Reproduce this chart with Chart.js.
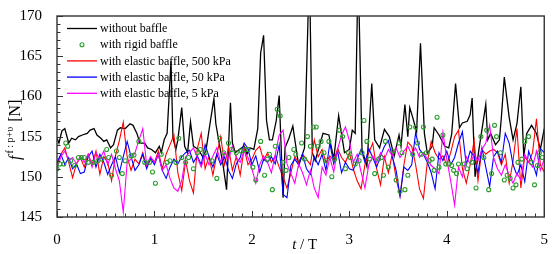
<!DOCTYPE html>
<html lang="en">
<head>
<meta charset="UTF-8" />
<title>Force history</title>
<style>
  body { margin: 0; padding: 0; background: #fff; }
  #c { display: block; }
</style>
</head>
<body>
<canvas id="c" width="554" height="254"></canvas>
<script src="https://cdn.jsdelivr.net/npm/chart.js"></script>
<script>
// ---- data ----
const labels = [
  'without baffle',
  'with rigid baffle',
  'with elastic baffle, 500 kPa',
  'with elastic baffle, 50 kPa',
  'with elastic baffle, 5 kPa'
];

// without baffle (irregular sampling, follows the peaks)
const tNoBaffle = [0.00,0.02,0.05,0.08,0.12,0.15,0.19,0.22,0.26,0.31,0.34,0.38,0.41,0.45,0.48,0.51,0.55,0.58,0.62,0.65,0.70,0.75,0.78,0.82,0.85,0.90,0.93,0.97,
  1.01,1.05,1.07,1.10,1.13,1.17,1.19,1.22,1.24,1.28,1.31,1.34,1.37,1.40,1.45,1.50,1.53,1.57,1.61,1.63,1.67,1.70,1.74,1.78,1.80,1.83,1.87,1.92,1.95,1.98,
  2.02,2.06,2.09,2.12,2.15,2.18,2.21,2.25,2.28,2.32,2.34,2.38,2.42,2.48,2.54,2.59,2.62,2.65,2.73,2.79,2.84,2.89,2.95,
  3.00,3.03,3.06,3.09,3.13,3.18,3.23,3.26,3.31,3.36,3.41,3.46,3.51,3.53,3.57,3.60,3.62,3.65,3.69,3.73,3.77,3.80,3.85,3.87,3.92,3.98,
  4.02,4.05,4.09,4.13,4.16,4.21,4.24,4.26,4.29,4.33,4.40,4.42,4.45,4.50,4.54,4.56,4.59,4.64,4.68,4.72,4.76,4.79,4.82,4.87,4.92,4.96,5.00];
const vNoBaffle = [154.8,154.2,155.7,156.0,154.2,154.8,154.6,155.0,155.2,155.4,155.8,156.0,155.2,154.8,154.4,154.6,153.6,154.0,155.8,156.1,156.0,156.6,156.4,155.4,154.2,154.2,153.6,153.4,
  153.0,153.8,153.0,154.6,155.4,164.4,154.8,153.4,154.6,158.6,153.8,153.0,156.8,153.8,153.4,152.4,153.4,156.6,159.7,156.6,153.8,151.8,148.4,159.2,154.2,153.0,153.4,153.8,152.8,153.6,
  153.4,156.0,165.4,167.6,157.0,154.6,154.6,157.0,160.1,147.4,153.6,154.8,156.3,151.4,153.6,176.0,153.0,152.0,155.4,155.2,152.2,157.6,153.0,
  153.4,155.8,155.4,176.0,153.4,151.3,161.6,154.6,153.6,155.9,155.0,152.6,155.2,153.8,159.0,155.0,158.6,157.4,155.6,166.6,155.4,152.9,153.8,156.1,155.2,153.8,
  153.6,155.3,161.6,156.1,156.7,156.9,157.7,159.8,150.0,153.4,159.0,154.6,155.4,154.0,154.6,157.4,162.4,157.4,154.6,156.6,161.2,152.5,155.4,156.4,155.4,153.4,156.0];

// with rigid baffle (markers)
const tRigid = [0.00,0.03,0.07,0.09,0.11,0.14,0.18,0.22,0.25,0.28,0.32,0.37,0.42,0.46,0.51,0.53,0.56,0.61,0.64,0.67,0.70,0.76,0.79,0.84,0.90,0.95,0.98,
  1.01,1.07,1.13,1.16,1.22,1.25,1.28,1.32,1.35,1.40,1.44,1.47,1.52,1.59,1.64,1.67,1.71,1.76,1.79,1.84,1.89,1.93,1.96,
  2.01,2.04,2.09,2.13,2.16,2.18,2.21,2.24,2.26,2.29,2.32,2.35,2.38,2.43,2.45,2.51,2.54,2.57,2.60,2.63,2.66,2.68,2.71,2.74,2.76,2.79,2.82,2.85,2.90,2.93,2.96,2.99,
  3.01,3.06,3.10,3.13,3.15,3.18,3.21,3.26,3.30,3.33,3.35,3.37,3.40,3.45,3.48,3.51,3.52,3.54,3.57,3.60,3.62,3.65,3.68,3.70,3.74,3.76,3.79,3.82,3.85,3.87,3.90,3.92,3.96,3.99,
  4.02,4.05,4.07,4.10,4.12,4.18,4.21,4.26,4.30,4.35,4.38,4.41,4.43,4.46,4.49,4.51,4.55,4.59,4.62,4.65,4.68,4.71,4.73,4.77,4.80,4.84,4.87,4.90,4.93,4.95,4.98];
const vRigid = [151.0,151.6,151.6,154.2,153.8,152.0,151.4,152.4,152.4,152.4,151.8,151.8,152.0,152.2,153.4,152.4,150.2,153.2,152.4,150.4,152.0,152.6,152.7,154.4,151.8,151.8,150.6,
  149.2,152.8,151.8,152.0,151.8,154.8,152.4,151.8,152.4,151.0,153.0,153.4,153.0,152.0,149.8,154.8,153.0,154.2,153.4,153.0,153.2,153.4,153.4,
  151.2,149.6,154.4,150.2,152.2,152.8,148.4,153.8,158.4,157.6,151.8,150.8,152.4,153.4,152.8,154.2,152.2,155.0,153.8,156.2,156.2,153.8,154.4,153.0,152.0,154.4,150.0,152.2,155.8,155.0,151.0,153.0,
  152.4,151.6,152.0,153.0,157.0,154.4,152.2,150.4,152.2,152.4,150.2,154.4,151.2,153.2,149.6,154.2,148.2,153.0,148.4,150.2,156.2,152.8,156.2,154.2,152.8,156.2,153.0,152.0,152.2,150.8,157.4,151.2,155.2,151.6,
  151.6,151.4,150.8,150.4,151.6,151.6,151.0,151.8,148.6,155.0,152.4,155.8,148.4,150.4,156.4,155.0,153.0,149.6,150.2,149.8,148.6,149.0,151.8,152.2,154.4,155.0,151.8,149.0,151.4,153.0,152.4];

// elastic baffles, sampled every 0.04 T
const tElastic = Array.from({ length: 126 }, (_, i) => +(i * 0.04).toFixed(2));
const v500kPa = [151.5,152.8,153.6,151.8,149.9,151.6,152.4,151.2,152.8,151.5,153.2,150.3,152.5,151.8,149.5,152.6,154.5,156.8,152.5,150.8,152.2,151.6,153.0,151.2,152.4,
  151.8,153.2,151.0,152.8,154.0,155.2,150.5,148.3,152.0,149.5,148.0,153.5,155.4,151.0,152.5,150.2,152.8,155.0,151.5,153.6,150.8,152.5,150.2,153.5,151.5,
  152.2,153.3,153.8,152.0,153.0,151.8,152.6,151.2,150.0,148.6,150.5,152.5,151.8,152.8,152.2,151.5,154.6,152.5,153.4,151.8,152.6,152.0,153.5,152.4,151.8,
  153.0,151.0,149.5,148.5,151.5,153.0,154.2,151.0,149.0,152.5,150.5,152.8,149.8,147.6,151.5,154.3,153.8,151.5,148.5,147.3,151.8,154.4,153.0,152.2,152.6,
  151.5,153.0,155.0,155.8,151.0,149.2,151.5,154.5,149.5,153.4,152.8,153.2,153.4,153.0,151.5,152.8,149.2,152.0,156.0,148.6,152.5,151.8,153.0,157.2,151.5,150.6];
const v50kPa = [151.8,152.8,151.5,152.4,151.0,151.6,150.4,150.6,152.5,153.2,151.2,152.8,151.8,150.3,151.5,152.5,150.5,152.5,154.4,152.5,150.8,151.5,152.8,151.0,152.3,
  151.5,152.8,150.8,149.8,151.2,152.2,151.6,152.5,153.0,153.3,151.8,152.6,151.5,154.0,152.5,151.2,152.8,151.5,152.5,150.8,149.8,151.6,152.4,154.2,153.5,
  151.5,152.6,150.6,152.2,151.8,152.5,151.6,154.0,147.8,147.4,151.4,152.2,151.5,152.8,151.0,150.3,152.5,151.5,152.8,150.8,154.2,151.6,153.2,150.5,151.8,
  151.0,150.8,152.2,153.4,151.8,153.5,152.4,151.2,152.6,153.8,154.5,152.5,150.8,147.6,151.2,150.8,151.5,155.5,153.4,152.8,151.8,150.5,148.5,153.0,152.0,
  153.2,151.5,152.4,154.2,155.6,151.5,153.2,152.5,150.5,153.6,151.2,148.8,152.5,153.2,151.8,155.4,154.2,151.5,150.2,151.5,149.4,153.2,151.8,150.2,153.5,153.0];
const v5kPa = [151.0,152.5,153.2,152.0,152.4,151.6,152.6,151.8,152.8,151.2,153.0,152.2,153.2,151.5,152.8,151.0,149.5,145.6,151.8,152.2,153.0,154.5,156.0,151.5,152.5,
  151.8,152.8,150.8,151.5,149.8,148.6,148.2,149.5,152.5,153.0,153.6,152.4,151.2,152.8,151.5,152.6,153.6,151.8,153.0,152.2,153.8,152.4,151.8,153.2,152.4,
  151.0,149.2,151.5,152.6,151.8,150.5,152.8,155.2,155.8,151.6,150.4,149.2,151.6,150.5,149.0,150.8,148.6,147.4,151.2,150.2,152.4,150.6,153.4,155.2,156.2,
  154.5,151.8,152.8,150.6,148.6,151.5,152.6,151.8,153.0,152.2,153.4,152.6,153.6,152.4,153.2,153.8,152.8,153.6,152.4,153.0,152.2,151.4,151.0,150.4,155.5,
  152.2,149.5,146.5,151.2,150.0,152.5,151.6,152.8,152.0,153.4,154.2,156.4,152.4,151.0,150.2,151.5,150.2,149.2,150.4,149.6,152.8,151.8,151.2,153.2,150.8,152.2];

const xTicks = [0, 1, 2, 3, 4, 5];
const yTicks = [145, 150, 155, 160, 165, 170];

const pts = (ts, vs) => ts.map((t, i) => ({ x: t, y: vs[i] }));
const SERIF = '"Liberation Serif", "Times New Roman", serif';

const datasets = [
  { label: labels[0], data: pts(tNoBaffle, vNoBaffle), borderColor: '#000', borderWidth: 1.3, order: 5 },
  { label: labels[1], data: pts(tRigid, vRigid), showLine: false, pointRadius: 2, pointBorderWidth: 1.1,
    pointBorderColor: '#2e9e2e', pointBackgroundColor: 'rgba(0,0,0,0)', borderColor: '#2e9e2e', order: 1 },
  { label: labels[2], data: pts(tElastic, v500kPa), borderColor: '#ff0000', borderWidth: 1.1, order: 4 },
  { label: labels[3], data: pts(tElastic, v50kPa), borderColor: '#0000ff', borderWidth: 1.1, order: 3 },
  { label: labels[4], data: pts(tElastic, v5kPa), borderColor: '#ff00ff', borderWidth: 1.1, order: 2 }
];
datasets.forEach(d => {
  if (d.showLine !== false) { d.pointRadius = 0; d.tension = 0; d.fill = false; }
});

// frame, inward ticks, legend and axis titles
const decor = {
  id: 'decor',
  afterDraw(chart) {
    const ctx = chart.ctx;
    const a = chart.chartArea;
    const sx = chart.scales.x, sy = chart.scales.y;
    ctx.save();
    ctx.strokeStyle = '#333';
    ctx.lineWidth = 1;
    ctx.beginPath();
    for (let k = 0; k <= 50; k++) {
      const px = Math.round(sx.getPixelForValue(k / 10)) + 0.5;
      const len = k % 10 === 0 ? 6 : 3.5;
      ctx.moveTo(px, a.bottom);
      ctx.lineTo(px, a.bottom - len);
    }
    for (let v = 145; v <= 170; v++) {
      const py = Math.round(sy.getPixelForValue(v)) + 0.5;
      const len = v % 5 === 0 ? 6 : 3.5;
      ctx.moveTo(a.left, py);
      ctx.lineTo(a.left + len, py);
    }
    ctx.stroke();
    ctx.lineWidth = 1.4;
    ctx.strokeRect(a.left, a.top, a.right - a.left, a.bottom - a.top);

    // legend
    ctx.font = '12px ' + SERIF;
    ctx.textBaseline = 'middle';
    ctx.fillStyle = '#000';
    chart.data.datasets.forEach((d, i) => {
      const y = a.top + 12.5 + i * 16.2;
      const x0 = a.left + 10;
      if (d.showLine === false) {
        ctx.strokeStyle = d.pointBorderColor;
        ctx.lineWidth = 1.1;
        ctx.beginPath();
        ctx.arc(x0 + 15, y, 2, 0, Math.PI * 2);
        ctx.stroke();
      } else {
        ctx.strokeStyle = d.borderColor;
        ctx.lineWidth = 1.3;
        ctx.beginPath();
        ctx.moveTo(x0, y);
        ctx.lineTo(x0 + 30, y);
        ctx.stroke();
      }
      ctx.fillText(d.label, x0 + 33, y + 0.5);
    });

    // x title: t / T
    ctx.textBaseline = 'alphabetic';
    const cx = (a.left + a.right) / 2 + 4;
    ctx.font = 'italic 15px ' + SERIF;
    const wT = ctx.measureText('t').width;
    ctx.font = '15px ' + SERIF;
    const wR = ctx.measureText(' / T').width;
    let x = cx - (wT + wR) / 2;
    ctx.font = 'italic 15px ' + SERIF;
    ctx.fillText('t', x, 249);
    ctx.font = '15px ' + SERIF;
    ctx.fillText(' / T', x + wT, 249);

    // y title: f^{f:p+υ} [N]
    ctx.translate(20, 160);
    ctx.rotate(-Math.PI / 2);
    let p = 0;
    ctx.font = 'italic 16px ' + SERIF;
    ctx.fillText('f', p, 0);
    p += ctx.measureText('f').width + 2;
    ctx.font = '10px ' + SERIF;
    ctx.fillText('f : p+\u03c5', p, -7);
    p += ctx.measureText('f : p+\u03c5').width + 1;
    ctx.font = '16px ' + SERIF;
    ctx.fillText(' [N]', p, 0);
    ctx.restore();
  }
};

new Chart(document.getElementById('c'), {
  type: 'line',
  data: { datasets },
  options: {
    responsive: false,
    animation: false,
    devicePixelRatio: 1,
    layout: { padding: { top: 10, right: 6, left: 0, bottom: 0 } },
    plugins: { legend: { display: false }, tooltip: { enabled: false } },
    scales: {
      x: {
        type: 'linear', min: 0, max: 5,
        afterBuildTicks: s => { s.ticks = xTicks.map(v => ({ value: v })); },
        afterFit: s => { s.height = 37; },
        grid: { display: false },
        border: { display: false },
        ticks: { color: '#000', font: { family: SERIF, size: 15 }, padding: 6, maxRotation: 0 }
      },
      y: {
        min: 145, max: 170,
        afterBuildTicks: s => { s.ticks = yTicks.map(v => ({ value: v })); },
        afterFit: s => { s.width = 57; },
        grid: { display: false },
        border: { display: false },
        ticks: { color: '#000', font: { family: SERIF, size: 15 }, padding: 7 }
      }
    }
  },
  plugins: [decor]
});
</script>
</body>
</html>
